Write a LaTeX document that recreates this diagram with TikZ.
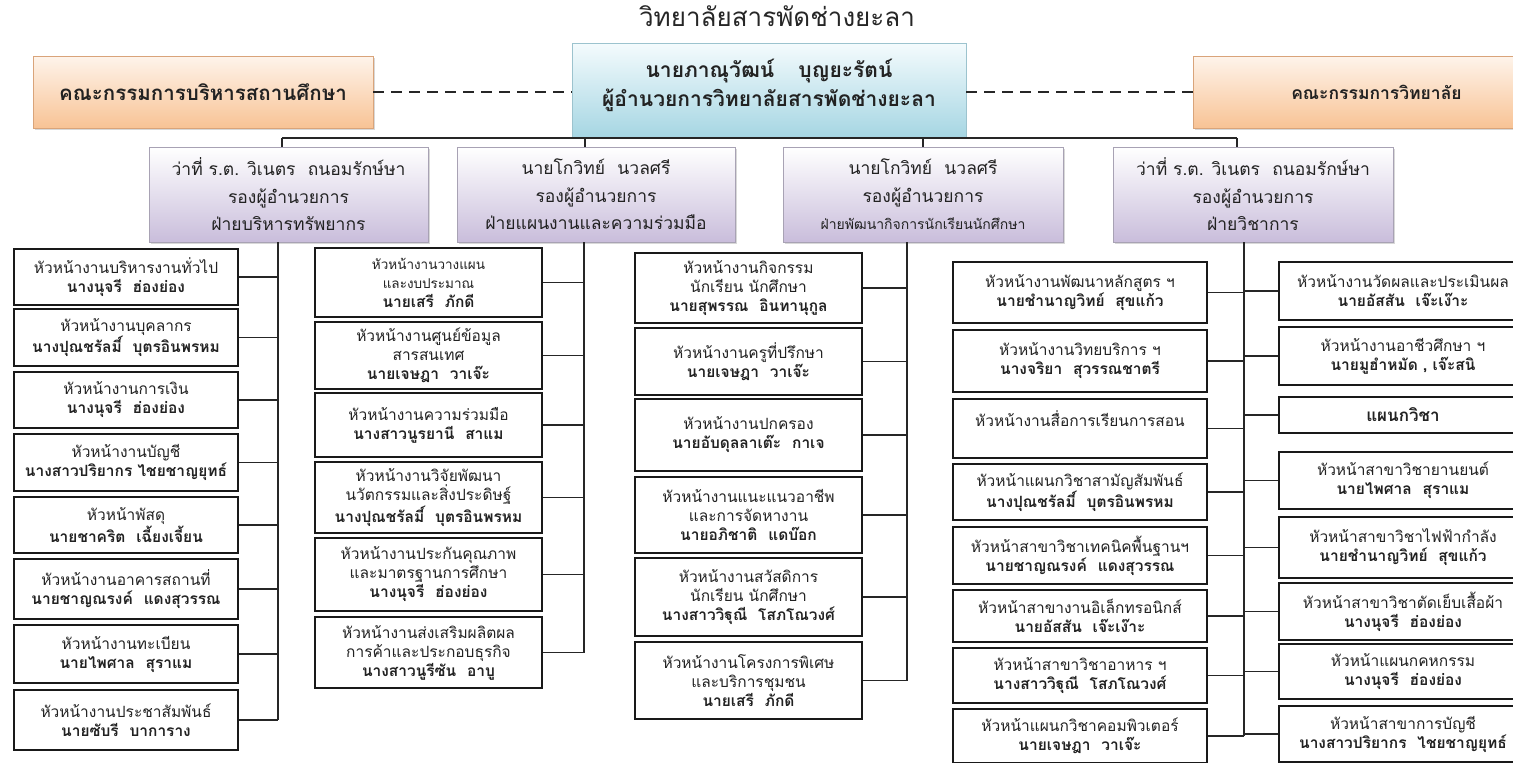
\documentclass[tikz,border=0pt]{standalone}
\usepackage{fontspec}
\setmainfont{Loma}[Script=Thai]
\usetikzlibrary{shadows}
\definecolor{orT}{HTML}{FEF4EB}
\definecolor{orB}{HTML}{F8C395}
\definecolor{orD}{HTML}{D9A47A}
\definecolor{blT}{HTML}{F4FBFD}
\definecolor{blB}{HTML}{A6D6E3}
\definecolor{blD}{HTML}{9CC3CE}
\definecolor{puB}{HTML}{C9BDDB}
\definecolor{puD}{HTML}{A8A2B4}
\definecolor{ink}{HTML}{222222}
\newcommand\gp{\hspace{0.7em}}
\newcommand\smf{\fontsize{13.5}{19}\selectfont}
\newcommand\bx[7][ibox]{\node[#1,minimum width={#5-#3},minimum height={#6-#4}] (#2) at ({(#3+#5)/2},{(#4+#6)/2}) {#7};}
\tikzset{
 ibox/.style={draw=black!90, line width=2.2pt, fill=white, align=center, inner sep=1pt, text=ink, font=\fontsize{15.5}{19}\selectfont},
 pbox/.style={draw=puD, line width=0.8pt, top color=white, bottom color=puB, align=center, inner sep=1pt, text=ink, font=\fontsize{17.5}{27.5}\selectfont, drop shadow={opacity=0.3, shadow xshift=1.5pt, shadow yshift=-1.5pt}},
 obox/.style={draw=orD, line width=0.8pt, top color=orT, bottom color=orB, text=ink, font=\fontsize{17.5}{20}\selectfont\bfseries, drop shadow={opacity=0.3, shadow xshift=1.5pt, shadow yshift=-1.5pt}},
 dbox/.style={draw=blD, line width=0.8pt, top color=blT, bottom color=blB, align=center, text=ink, font=\fontsize{21}{29}\selectfont\bfseries},
 conn/.style={line width=1.3pt, draw=black!85},
 dline/.style={line width=1.8pt, draw=black!85, dash pattern=on 11pt off 7pt},
}
\begin{document}
\begin{tikzpicture}[x=1pt,y=-1pt]
\useasboundingbox (0,0) rectangle (1513,763);
\fill[white] (0,0) rectangle (1513,763);
\clip (0,0) rectangle (1513,763);

\node[font=\fontsize{26}{30}\selectfont, text=black!85] (title) at (777,16) {วิทยาลัยสารพัดช่างยะลา};

\bx[dbox]{dir}{572}{43}{966}{137}{นายภาณุวัฒน์\hspace{24pt}บุญยะรัตน์\\ผู้อำนวยการวิทยาลัยสารพัดช่างยะลา\\[-14pt]\mbox{}}
\bx[obox,font=\fontsize{20.5}{22}\selectfont\bfseries]{lorg}{33}{56}{373}{128}{คณะกรรมการบริหารสถานศึกษา}
\bx[obox]{rorg}{1193}{56}{1560}{128}{คณะกรรมการวิทยาลัย}
\draw[dline] (lorg.east) -- (lorg.east -| dir.west);
\draw[dline] (dir.east |- rorg.west) -- (rorg.west);

\bx[pbox]{p1}{149}{147}{428}{242}{ว่าที่ ร.ต. วิเนตร\gp ถนอมรักษ์ษา\\รองผู้อำนวยการ\\ฝ่ายบริหารทรัพยากร}
\bx[pbox]{p2}{457}{147}{735}{242}{นายโกวิทย์\gp นวลศรี\\รองผู้อำนวยการ\\ฝ่ายแผนงานและความร่วมมือ}
\bx[pbox]{p3}{783}{147}{1063}{242}{นายโกวิทย์\gp นวลศรี\\รองผู้อำนวยการ\\{\fontsize{14}{27.5}\selectfont ฝ่ายพัฒนากิจการนักเรียนนักศึกษา}}
\bx[pbox]{p4}{1113}{147}{1393}{242}{ว่าที่ ร.ต. วิเนตร\gp ถนอมรักษ์ษา\\รองผู้อำนวยการ\\ฝ่ายวิชาการ}

\coordinate (busL) at (282,138);
\coordinate (bus2) at (585,138);
\coordinate (bus3) at (923,138);
\coordinate (busR) at (1237,138);
\draw[conn] (busL) -- (busR);
\draw[conn] (busL) -- (busL |- p1.north);
\draw[conn] (bus2) -- (bus2 |- p2.north);
\draw[conn] (bus3) -- (bus3 |- p3.north);
\draw[conn] (busR) -- (busR |- p4.north);

% column 1
\bx{a1}{14}{249}{238}{305}{หัวหน้างานบริหารงานทั่วไป\\\textbf{นางนุจรี\gp ฮ่องย่อง}}
\bx{a2}{14}{309}{238}{366}{หัวหน้างานบุคลากร\\\textbf{นางปุณชรัลมี์\gp บุตรอินพรหม}}
\bx{a3}{14}{372}{238}{428}{หัวหน้างานการเงิน\\\textbf{นางนุจรี\gp ฮ่องย่อง}}
\bx{a4}{14}{434}{238}{491}{หัวหน้างานบัญชี\\\textbf{นางสาวปริยากร ไชยชาญยุทธ์}}
\bx{a5}{14}{497}{238}{553}{หัวหน้าพัสดุ\\\textbf{นายชาคริต\gp เฉี้ยงเจี้ยน}}
\bx{a6}{14}{559}{238}{619}{หัวหน้างานอาคารสถานที่\\\textbf{นายชาญณรงค์\gp แดงสุวรรณ}}
\bx{a7}{14}{625}{238}{683}{หัวหน้างานทะเบียน\\\textbf{นายไพศาล\gp สุราแม}}
\bx{a8}{14}{690}{238}{750}{หัวหน้างานประชาสัมพันธ์\\\textbf{นายซับรี\gp บาการาง}}

% column 2
\bx{b1}{315}{248}{542}{317}{{\smf หัวหน้างานวางแผน}\\{\smf และงบประมาณ}\\\textbf{นายเสรี\gp ภักดี}}
\bx{b2}{315}{322}{542}{389}{หัวหน้างานศูนย์ข้อมูล\\สารสนเทศ\\\textbf{นายเจษฎา\gp วาเจ๊ะ}}
\bx{b3}{315}{393}{542}{457}{หัวหน้างานความร่วมมือ\\\textbf{นางสาวนูรยานี\gp สาแม}}
\bx{b4}{315}{462}{542}{533}{หัวหน้างานวิจัยพัฒนา\\นวัตกรรมและสิ่งประดิษฐ์\\\textbf{นางปุณชรัลมี์\gp บุตรอินพรหม}}
\bx{b5}{315}{538}{542}{611}{หัวหน้างานประกันคุณภาพ\\และมาตรฐานการศึกษา\\\textbf{นางนุจรี\gp ฮ่องย่อง}}
\bx{b6}{315}{617}{542}{688}{หัวหน้างานส่งเสริมผลิตผล\\การค้าและประกอบธุรกิจ\\\textbf{นางสาวนูรีซัน\gp อาบู}}

% column 3
\bx{c1}{635}{253}{862}{323}{หัวหน้างานกิจกรรม\\นักเรียน นักศึกษา\\\textbf{นายสุพรรณ\gp อินทานุกูล}}
\bx{c2}{635}{328}{862}{395}{หัวหน้างานครูที่ปรึกษา\\\textbf{นายเจษฎา\gp วาเจ๊ะ}}
\bx{c3}{635}{399}{862}{471}{หัวหน้างานปกครอง\\\textbf{นายอับดุลลาเต๊ะ\gp กาเจ}}
\bx{c4}{635}{477}{862}{553}{หัวหน้างานแนะแนวอาชีพ\\และการจัดหางาน\\\textbf{นายอภิชาติ\gp แดบ๊อก}}
\bx{c5}{635}{558}{862}{636}{หัวหน้างานสวัสดิการ\\นักเรียน นักศึกษา\\\textbf{นางสาววิฐุณี\gp โสภโณวงศ์}}
\bx{c6}{635}{642}{862}{719}{หัวหน้างานโครงการพิเศษ\\และบริการชุมชน\\\textbf{นายเสรี\gp ภักดี}}

% column 4
\bx{d1}{953}{262}{1207}{323}{หัวหน้างานพัฒนาหลักสูตร ฯ\\\textbf{นายชำนาญวิทย์\gp สุขแก้ว}}
\bx{d2}{953}{330}{1207}{392}{หัวหน้างานวิทยบริการ ฯ\\\textbf{นางจริยา\gp สุวรรณชาตรี}}
\bx{d3}{953}{399}{1207}{458}{หัวหน้างานสื่อการเรียนการสอน\\\mbox{}}
\bx{d4}{953}{464}{1207}{520}{หัวหน้าแผนกวิชาสามัญสัมพันธ์\\\textbf{นางปุณชรัลมี์\gp บุตรอินพรหม}}
\bx{d5}{953}{527}{1207}{584}{หัวหน้าสาขาวิชาเทคนิคพื้นฐานฯ\\\textbf{นายชาญณรงค์\gp แดงสุวรรณ}}
\bx{d6}{953}{590}{1207}{642}{หัวหน้าสาขางานอิเล็กทรอนิกส์\\\textbf{นายอัสสัน\gp เจ๊ะเง๊าะ}}
\bx{d7}{953}{648}{1207}{703}{หัวหน้าสาขาวิชาอาหาร ฯ\\\textbf{นางสาววิฐุณี\gp โสภโณวงศ์}}
\bx{d8}{953}{709}{1207}{763}{หัวหน้าแผนกวิชาคอมพิวเตอร์\\\textbf{นายเจษฎา\gp วาเจ๊ะ}}

% column 5
\bx{e1}{1279}{262}{1527}{320}{หัวหน้างานวัดผลและประเมินผล\\\textbf{นายอัสสัน\gp เจ๊ะเง๊าะ}}
\bx{e2}{1279}{327}{1527}{385}{หัวหน้างานอาชีวศึกษา ฯ\\\textbf{นายมูฮำหมัด , เจ๊ะสนิ}}
\bx[ibox,font=\fontsize{17}{20}\selectfont\bfseries]{e3}{1279}{397}{1527}{433}{แผนกวิชา}
\bx{e4}{1279}{452}{1527}{509}{หัวหน้าสาขาวิชายานยนต์\\\textbf{นายไพศาล\gp สุราแม}}
\bx{e5}{1279}{517}{1527}{578}{หัวหน้าสาขาวิชาไฟฟ้ากำลัง\\\textbf{นายชำนาญวิทย์\gp สุขแก้ว}}
\bx{e6}{1279}{583}{1527}{640}{หัวหน้าสาขาวิชาตัดเย็บเสื้อผ้า\\\textbf{นางนุจรี\gp ฮ่องย่อง}}
\bx{e7}{1279}{644}{1527}{699}{หัวหน้าแผนกคหกรรม\\\textbf{นางนุจรี\gp ฮ่องย่อง}}
\bx{e8}{1279}{706}{1527}{762}{หัวหน้าสาขาการบัญชี\\\textbf{นางสาวปริยากร\gp ไชยชาญยุทธ์}}

% trunks
\coordinate (ta) at (278,242);
\coordinate (tb) at (584,242);
\coordinate (tc) at (907,242);
\coordinate (td) at (1244,242);
\draw[conn] (ta) -- (ta |- a8.east);
\draw[conn] (tb) -- (tb |- b6.east);
\draw[conn] (tc) -- (tc |- c6.east);
\draw[conn] (td) -- (td |- d8.east);
\foreach \n in {a1,a2,a3,a4,a5,a6,a7,a8} \draw[conn] (\n.east) -- (\n.east -| ta);
\foreach \n in {b1,b2,b3,b4,b5,b6} \draw[conn] (\n.east) -- (\n.east -| tb);
\foreach \n in {c1,c2,c3,c4,c5,c6} \draw[conn] (\n.east) -- (\n.east -| tc);
\foreach \n in {d1,d2,d3,d4,d5,d6,d7,d8} \draw[conn] (\n.east) -- (\n.east -| td);
\foreach \n in {e1,e2,e3,e4,e5,e6,e7,e8} \draw[conn] (\n.west) -- (\n.west -| td);
\end{tikzpicture}
\end{document}
